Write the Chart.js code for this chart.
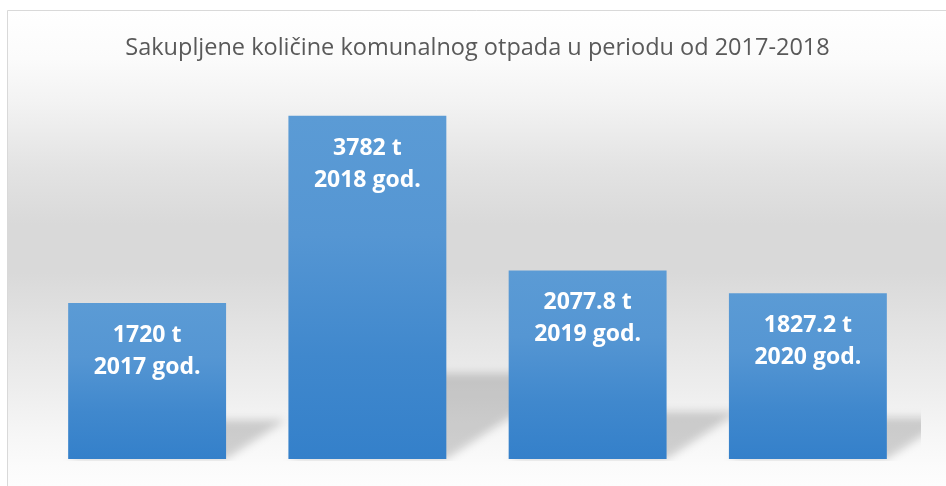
<!DOCTYPE html>
<html>
<head>
<meta charset="utf-8">
<script src="https://cdn.jsdelivr.net/npm/chart.js@4"></script>
<style>
  html, body { margin: 0; padding: 0; background: #ffffff; }
  #wrap { width: 946px; height: 486px; position: relative; }
</style>
</head>
<body>
<div id="wrap"><canvas id="wasteChart" width="946" height="486"></canvas></div>
<script>
// Chart data
const years = ['2017', '2018', '2019', '2020'];
const amounts = [1720, 3782, 2077.8, 1827.2];
const unitLabel = 't';
const yearSuffix = 'god.';
const chartTitle = 'Sakupljene količine komunalnog otpada u periodu od 2017-2018';

// Frame + grey "floor" background
const backgroundPlugin = {
    id: 'frameBackground',
    beforeDraw(chart) {
        const c = chart.ctx;
        const w = chart.width, h = chart.height;
        c.save();
        c.fillStyle = '#ffffff';
        c.fillRect(0, 0, w, h);
        const g = c.createLinearGradient(0, 11, 0, h);
        g.addColorStop(0.00, '#ffffff');
        g.addColorStop(0.10, '#fbfbfb');
        g.addColorStop(0.19, '#f3f3f3');
        g.addColorStop(0.33, '#e3e3e3');
        g.addColorStop(0.45, '#d9d9d9');
        g.addColorStop(0.55, '#d9d9d9');
        g.addColorStop(0.68, '#e4e4e4');
        g.addColorStop(0.79, '#ededed');
        g.addColorStop(0.89, '#f6f6f6');
        g.addColorStop(0.96, '#fbfbfb');
        g.addColorStop(1.00, '#fdfdfd');
        c.fillStyle = g;
        c.fillRect(8, 11, w - 8, h - 11);
        c.strokeStyle = '#d9d9d9';
        c.lineWidth = 1;
        c.beginPath();
        c.moveTo(7.5, h);
        c.lineTo(7.5, 10.5);
        c.lineTo(w, 10.5);
        c.stroke();
        c.restore();
    }
};

// Skewed soft shadows behind the bars
const barShadowPlugin = {
    id: 'barShadow',
    beforeDatasetsDraw(chart) {
        const c = chart.ctx;
        const area = chart.chartArea;
        const bars = chart.getDatasetMeta(0).data;
        c.save();
        c.beginPath();
        c.rect(area.left - 40, area.top, area.right - area.left + 43, area.bottom - area.top + 2);
        c.clip();
        c.filter = 'blur(4px)';
        c.fillStyle = 'rgba(0, 0, 0, 0.17)';
        bars.forEach(bar => {
            const left = bar.x - bar.width / 2;
            const right = bar.x + bar.width / 2;
            const barH = bar.base - bar.y;
            const sTop = bar.base - barH * 0.25;
            const dx = barH * 0.38;
            c.beginPath();
            c.moveTo(left + dx, sTop);
            c.lineTo(right + dx, sTop);
            c.lineTo(right, bar.base);
            c.lineTo(left, bar.base);
            c.closePath();
            c.fill();
        });
        c.restore();
    }
};

// Two-line white labels inside the top of each bar
const barLabelPlugin = {
    id: 'barLabels',
    afterDatasetsDraw(chart) {
        const c = chart.ctx;
        const bars = chart.getDatasetMeta(0).data;
        c.save();
        c.fillStyle = '#ffffff';
        c.font = 'bold 23px "Open Sans", sans-serif';
        c.textAlign = 'center';
        c.textBaseline = 'alphabetic';
        bars.forEach((bar, i) => {
            c.fillText(amounts[i] + ' ' + unitLabel, bar.x, bar.y + 39);
            c.fillText(years[i] + ' ' + yearSuffix, bar.x, bar.y + 71);
        });
        c.restore();
    }
};

function barGradient(context) {
    const chart = context.chart;
    const { ctx, chartArea, scales } = chart;
    if (!chartArea || context.type !== 'data' || !scales.y) return '#4a8fd1';
    const top = scales.y.getPixelForValue(context.parsed.y);
    const bottom = scales.y.getPixelForValue(0);
    const g = ctx.createLinearGradient(0, top, 0, bottom);
    g.addColorStop(0, '#5b9bd5');
    g.addColorStop(0.35, '#5596d3');
    g.addColorStop(0.7, '#4088cd');
    g.addColorStop(1, '#3480ca');
    return g;
}

new Chart(document.getElementById('wasteChart'), {
    type: 'bar',
    data: {
        labels: years,
        datasets: [{
            data: amounts,
            backgroundColor: barGradient,
            borderWidth: 0,
            categoryPercentage: 1,
            barPercentage: 0.717
        }]
    },
    options: {
        responsive: false,
        animation: false,
        layout: {
            padding: { top: 1, left: 37, right: 28, bottom: 27 }
        },
        plugins: {
            legend: { display: false },
            tooltip: { enabled: false },
            title: {
                display: true,
                text: chartTitle,
                color: '#595959',
                font: { family: '"Open Sans", sans-serif', size: 23.5, weight: 'normal' },
                padding: { top: 33, bottom: 33.8 }
            }
        },
        scales: {
            x: { display: false, offset: true },
            y: { display: false, min: 0, max: 4000 }
        }
    },
    plugins: [backgroundPlugin, barShadowPlugin, barLabelPlugin]
});
</script>
</body>
</html>
